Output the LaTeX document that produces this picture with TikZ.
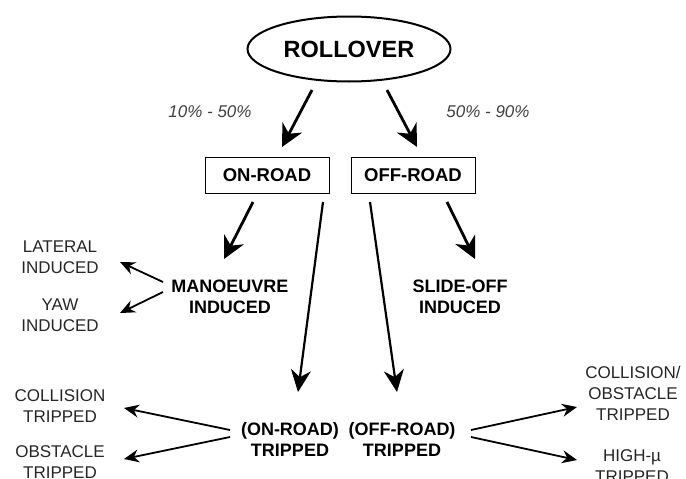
\documentclass[tikz,border=0pt]{standalone}
\usepackage{fontspec}
\setmainfont{Liberation Sans}
\usetikzlibrary{arrows.meta,shapes.geometric}
\begin{document}
\begin{tikzpicture}[x=1pt,y=-1pt,
  big/.style={-{Stealth[length=22pt,width=22pt,inset=7pt]}, line width=2.8pt},
  long/.style={-{Stealth[length=22pt,width=20pt,inset=7pt]}, line width=2.2pt},
  small/.style={-{Stealth[length=15pt,width=13pt,inset=5pt]}, line width=1.8pt},
  lab/.style={font=\fontsize{17}{21}\selectfont, align=center, inner sep=0pt, text=black!85},
  blab/.style={font=\fontsize{18}{21}\selectfont\bfseries, align=center, inner sep=0pt},
  pct/.style={font=\fontsize{17}{20}\selectfont\itshape, text=black!75, inner sep=0pt},
  boxn/.style={draw, line width=1pt, minimum width=124pt, minimum height=36pt, font=\fontsize{18.5}{22}\selectfont\bfseries, inner sep=0pt}]
\useasboundingbox (0,0) rectangle (686,479);
% nodes
\node[ellipse, draw, line width=2pt, minimum width=203pt, minimum height=65pt, inner sep=0pt, font=\fontsize{23.5}{28}\selectfont\bfseries] (roll) at (349,49) {ROLLOVER};
\node[pct] (p1) at (210,112) {10\% - 50\%};
\node[pct] (p2) at (488,112) {50\% - 90\%};
\node[boxn] (on) at (267,175) {ON-ROAD};
\node[boxn] (off) at (413,175) {OFF-ROAD};
\node[blab] (man) at (230,297) {MANOEUVRE\\INDUCED};
\node[blab] (slide) at (460,297) {SLIDE-OFF\\INDUCED};
\node[lab] (lat) at (60,257) {LATERAL\\INDUCED};
\node[lab] (yaw) at (60,315) {YAW\\INDUCED};
\node[blab] (ontr) at (290,439) {(ON-ROAD)\\TRIPPED};
\node[blab] (offtr) at (402,439) {(OFF-ROAD)\\TRIPPED};
\node[lab] (coll) at (60,406) {COLLISION\\TRIPPED};
\node[lab] (obst) at (60,462) {OBSTACLE\\TRIPPED};
\node[lab] (collobs) at (633,393) {COLLISION/\\OBSTACLE\\TRIPPED};
\node[lab] (high) at (632,466) {HIGH-µ\\TRIPPED};
% connector end points
\coordinate (r1) at (312,90);  \coordinate (r1e) at (282,147);
\coordinate (r2) at (387,90);  \coordinate (r2e) at (417,147);
\coordinate (o1) at (253,202); \coordinate (o1e) at (224,259);
\coordinate (o2) at (323,202); \coordinate (o2e) at (298,392);
\coordinate (f1) at (370,202); \coordinate (f1e) at (397,392);
\coordinate (f2) at (447,202); \coordinate (f2e) at (475,259);
\coordinate (m1) at (163,282); \coordinate (m1e) at (120,262);
\coordinate (m2) at (163,292); \coordinate (m2e) at (120,313);
\coordinate (t1) at (230,430); \coordinate (t1e) at (124,408);
\coordinate (t2) at (230,437); \coordinate (t2e) at (124,459);
\coordinate (u1) at (471,430); \coordinate (u1e) at (577,407);
\coordinate (u2) at (471,437); \coordinate (u2e) at (577,460);
% connectors
\draw[big] (r1) -- (r1e);
\draw[big] (r2) -- (r2e);
\draw[big] (o1) -- (o1e);
\draw[long] (o2) -- (o2e);
\draw[long] (f1) -- (f1e);
\draw[big] (f2) -- (f2e);
\draw[small] (m1) -- (m1e);
\draw[small] (m2) -- (m2e);
\draw[small] (t1) -- (t1e);
\draw[small] (t2) -- (t2e);
\draw[small] (u1) -- (u1e);
\draw[small] (u2) -- (u2e);
\end{tikzpicture}
\end{document}
